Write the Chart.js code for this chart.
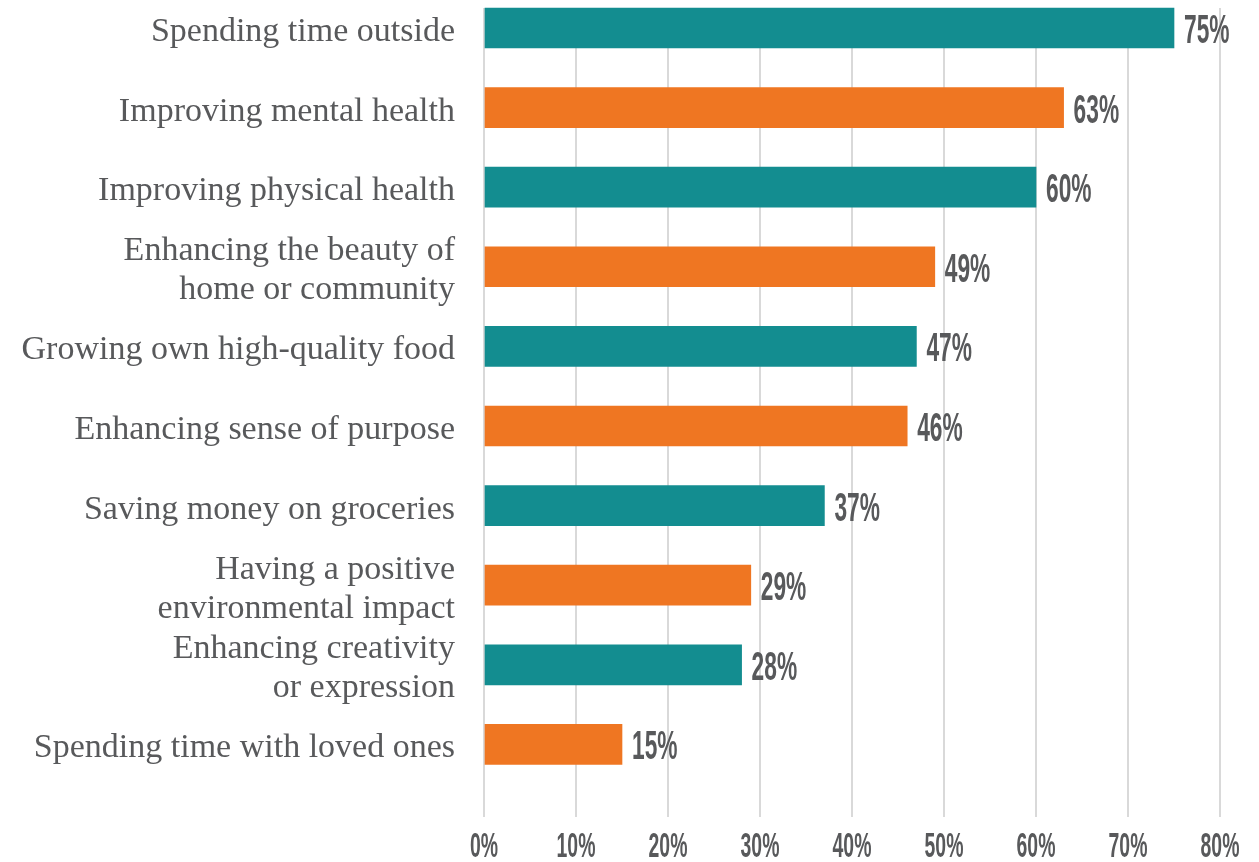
<!DOCTYPE html>
<html>
<head>
<meta charset="utf-8">
<script src="https://cdn.jsdelivr.net/npm/chart.js@4/dist/chart.umd.min.js"></script>
<style>
  html, body { margin: 0; padding: 0; background: #ffffff; }
  #wrap { width: 1259px; height: 862px; position: relative; }
</style>
</head>
<body>
<div id="wrap"><canvas id="myChart" width="1259" height="862"></canvas></div>
<script>
const labels = [
    'Spending time outside',
    'Improving mental health',
    'Improving physical health',
    ['Enhancing the beauty of', 'home or community'],
    'Growing own high-quality food',
    'Enhancing sense of purpose',
    'Saving money on groceries',
    ['Having a positive', 'environmental impact'],
    ['Enhancing creativity', 'or expression'],
    'Spending time with loved ones'
];
const values = [75, 63, 60, 49, 47, 46, 37, 29, 28, 15];
const xTicks = [0, 10, 20, 30, 40, 50, 60, 70, 80];

const TEAL = '#138d90';
const ORANGE = '#ef7622';
const GREY = '#58595b';
const barColors = values.map((v, i) => (i % 2 === 0 ? TEAL : ORANGE));

// condensed bold numbers: squeeze a bold narrow face horizontally
const numFont = "'Liberation Sans Narrow', 'Liberation Sans', sans-serif";
const SQUEEZE = 0.555;

function drawSqueezed(ctx, text, x, y, size, align) {
    ctx.save();
    ctx.font = 'bold ' + size + 'px ' + numFont;
    ctx.fillStyle = GREY;
    ctx.textBaseline = 'alphabetic';
    const w = ctx.measureText(text).width * SQUEEZE;
    let left = x;
    if (align === 'center') left = x - w / 2;
    ctx.translate(left, y);
    ctx.scale(SQUEEZE, 1);
    ctx.textAlign = 'left';
    ctx.fillText(text, 0, 0);
    ctx.restore();
}

const valueLabels = {
    id: 'valueLabels',
    afterDatasetsDraw(chart) {
        const ctx = chart.ctx;
        const meta = chart.getDatasetMeta(0);
        meta.data.forEach((bar, i) => {
            drawSqueezed(ctx, values[i] + '%', bar.x + 10, bar.y + 15, 41, 'left');
        });
        const xs = chart.scales.x;
        xTicks.forEach(t => {
            drawSqueezed(ctx, t + '%', xs.getPixelForValue(t), 857, 35, 'center');
        });
    }
};

const data = {
    datasets: [
        {
            data: values.map((v, i) => ({ x: v, y: i })),
            backgroundColor: barColors,
            borderWidth: 0,
            barThickness: 40,
            clip: false
        }
    ]
};

const config = {
    type: 'bar',
    data: data,
    options: {
        indexAxis: 'y',
        responsive: false,
        animation: false,
        layout: { padding: { top: 8, right: 39, bottom: 0, left: 0 } },
        plugins: {
            legend: { display: false },
            tooltip: { enabled: false }
        },
        scales: {
            x: {
                type: 'linear',
                min: 0,
                max: 80,
                afterBuildTicks: (scale) => {
                    scale.ticks = xTicks.map(v => ({ value: v }));
                },
                afterFit: (scale) => {
                    scale.height = 45;
                    scale.paddingLeft = 0;
                    scale.paddingRight = 0;
                },
                grid: { color: '#d9d9d9', lineWidth: 2, drawTicks: false },
                border: { display: false },
                ticks: { display: false }
            },
            y: {
                type: 'linear',
                reverse: true,
                offset: false,
                min: -0.251,
                max: 9.912,
                afterBuildTicks: (scale) => {
                    scale.ticks = labels.map((l, i) => ({ value: i }));
                },
                afterFit: (scale) => {
                    scale.width = 484;
                    scale.paddingTop = 0;
                    scale.paddingBottom = 0;
                },
                grid: { display: false, offset: false },
                border: { display: false },
                ticks: {
                    autoSkip: false,
                    padding: 21,
                    labelOffset: 4,
                    color: GREY,
                    font: { family: "'Liberation Serif', serif", size: 34, lineHeight: 1.15 },
                    callback: (value) => labels[value]
                }
            }
        }
    },
    plugins: [valueLabels]
};

const ctx = document.getElementById('myChart').getContext('2d');
const myChart = new Chart(ctx, config);
</script>
</body>
</html>
